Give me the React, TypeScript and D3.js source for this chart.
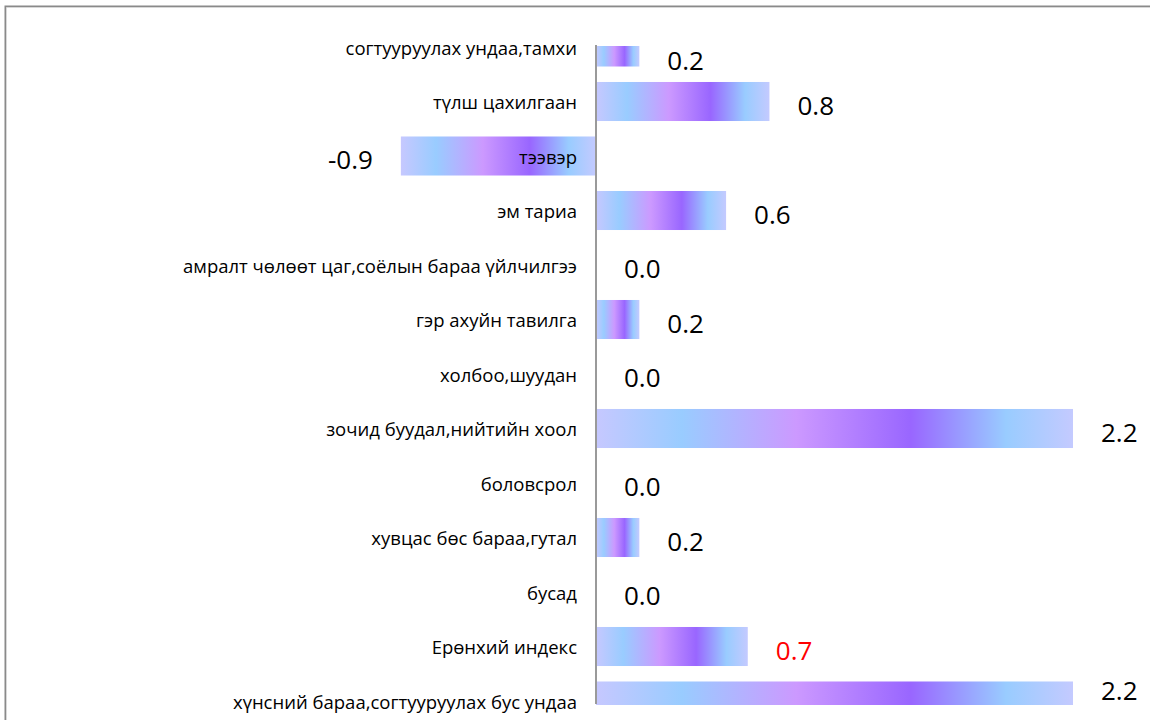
import React from "react";
import * as d3 from "d3";

const categories: string[] = [
  "согтууруулах ундаа,тамхи",
  "түлш цахилгаан",
  "тээвэр",
  "эм тариа",
  "амралт чөлөөт цаг,соёлын бараа үйлчилгээ",
  "гэр ахуйн тавилга",
  "холбоо,шуудан",
  "зочид буудал,нийтийн хоол",
  "боловсрол",
  "хувцас бөс бараа,гутал",
  "бусад",
  "Ерөнхий индекс",
  "хүнсний бараа,согтууруулах бус ундаа",
];

const values: number[] = [0.2, 0.8, -0.9, 0.6, 0.0, 0.2, 0.0, 2.2, 0.0, 0.2, 0.0, 0.7, 2.2];

const highlighted: string[] = ["Ерөнхий индекс"];

const W = 1150;
const H = 720;

export default function App() {
  const x = d3.scaleLinear().domain([0, 2.2]).range([596, 1073]);
  const y = d3
    .scaleBand<string>()
    .domain(categories)
    .range([19.75, 19.75 + 13 * 54.5])
    .paddingInner(0.284)
    .paddingOuter(0.142);

  const clipTop = 46;
  const clipBottom = 705;
  const zeroX = x(0);

  return (
    <svg
      width={W}
      height={H}
      style={{ position: "absolute", left: 0, top: 0, background: "#fff" }}
    >
      <defs>
        <linearGradient id="barGrad" x1="0" y1="0" x2="1" y2="0">
          <stop offset="0" stopColor="#c6c8ff" />
          <stop offset="0.18" stopColor="#99ccff" />
          <stop offset="0.42" stopColor="#cc99ff" />
          <stop offset="0.66" stopColor="#9966ff" />
          <stop offset="0.86" stopColor="#99ccff" />
          <stop offset="1" stopColor="#c4caff" />
        </linearGradient>
        <clipPath id="plotClip">
          <rect x={0} y={clipTop} width={W} height={clipBottom - clipTop} />
        </clipPath>
      </defs>

      <rect x={0} y={0} width={W} height={H} fill="#fff" />
      <path d={`M5.5,${H} V6.5 H${W}`} fill="none" stroke="#8a8a8a" strokeWidth={2} />
      <path d={`M6.5,${H} V7.5 H${W}`} fill="none" stroke="#d8d8d8" strokeWidth={1} />

      <g clipPath="url(#plotClip)">
        {categories.map((c, i) => {
          const v = values[i];
          if (v === 0) return null;
          const x0 = Math.min(x(0), x(v));
          const w = Math.abs(x(v) - x(0));
          return (
            <rect
              key={c}
              x={x0}
              y={y(c)!}
              width={w}
              height={y.bandwidth()}
              fill="url(#barGrad)"
            />
          );
        })}
      </g>

      <line x1={zeroX} x2={zeroX} y1={45} y2={704} stroke="#9a9a9a" strokeWidth={2} />

      <g fontFamily="'Open Sans', 'Noto Sans', sans-serif" fontSize={18.5} fill="#000">
        {categories.map((c) => (
          <text
            key={c}
            x={577}
            y={y(c)! + y.bandwidth() / 2}
            textAnchor="end"
            dominantBaseline="central"
          >
            {c}
          </text>
        ))}
      </g>

      <g fontFamily="'Open Sans', 'Noto Sans', sans-serif" fontSize={26}>
        {categories.map((c, i) => {
          const v = values[i];
          const cy = Math.max(60, Math.min(690, y(c)! + y.bandwidth() / 2 + 3));
          const neg = v < 0;
          const lx = neg ? x(v) - 28 : x(v) + 28;
          return (
            <text
              key={c}
              x={lx}
              y={cy}
              textAnchor={neg ? "end" : "start"}
              dominantBaseline="central"
              fill={highlighted.includes(c) ? "#ff0000" : "#000"}
            >
              {v.toFixed(1)}
            </text>
          );
        })}
      </g>
    </svg>
  );
}
